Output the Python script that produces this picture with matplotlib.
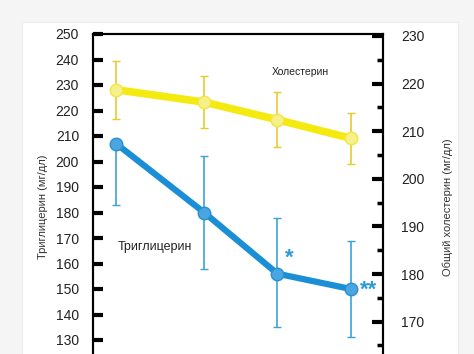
import matplotlib.pyplot as plt
from matplotlib.patches import Rectangle
from matplotlib.ticker import MultipleLocator

plt.rcParams['font.family'] = ['Liberation Sans', 'DejaVu Sans']

# weeks (spacing read from the point positions)
x = [0, 6, 11, 16]

trig = [207, 180, 156, 150]
trig_lo = [24, 22, 21, 19]
trig_hi = [0, 22, 22, 19]

chol = [218.7, 216.1, 212.4, 208.5]
chol_err = [6.1, 5.5, 5.8, 5.4]

W, H = 474, 354
fig = plt.figure(figsize=(W / 100, H / 100), dpi=100)
fig.patch.set_facecolor('#f5f5f5')
fig.patches.append(Rectangle((22 / W, -0.1), (458 - 22) / W, 1.1 - 22 / H,
                             transform=fig.transFigure, facecolor='white',
                             edgecolor='#ececec', lw=0.8, zorder=-5))

# axes box: left 93, right 383, top 34, bottom below the picture
ax_left, ax_right, ax_top, ax_bot = 93, 383, 34, 365.5
ax = fig.add_axes([ax_left / W, 1 - ax_bot / H, (ax_right - ax_left) / W,
                   (ax_bot - ax_top) / H])
ax2 = ax.twinx()
ax.set_zorder(2)
ax2.set_zorder(1)
ax.set_facecolor('none')
ax2.set_facecolor('none')

ax.set_xlim(-1.58, 18.2)
ax.set_ylim(120, 250)
ax2.set_ylim(160.8, 230.4)

# cholesterol (right axis)
ax2.errorbar(x, chol, yerr=chol_err, color='#f5ea10', lw=5.5, ecolor='#e8c930',
             elinewidth=1.2, capsize=3, capthick=1.2, marker='o', ms=9,
             mfc='#f7f08a', mec='#f2e640', mew=1, zorder=3)

# triglycerides (left axis)
ax.errorbar(x, trig, yerr=[trig_lo, trig_hi], color='#1a8fd6', lw=4.5,
            ecolor='#3aa3dc', elinewidth=1.2, capsize=3, capthick=1.2,
            marker='o', ms=9, mfc='#4aa6e0', mec='#2a90d0', mew=1, zorder=3)

ax.text(x[2] + 0.5, trig[2] + 2, '*', color='#2a9ad8', fontsize=16,
        fontweight='bold', ha='left', va='bottom')
ax.text(x[3] + 0.6, trig[3] - 4.5, '**', color='#2a9ad8', fontsize=16,
        fontweight='bold', ha='left', va='bottom')

ax2.text(10.6, 222.4, 'Холестерин', fontsize=7.5, color='#222222',
         ha='left', va='center')
ax.text(0.1, 166.5, 'Триглицерин', fontsize=9, color='#222222',
        ha='left', va='center')

ax.set_yticks(range(130, 251, 10))
ax.set_xticks([])
ax.tick_params(axis='y', direction='in', length=7, width=3, pad=10,
               labelsize=10, colors='black', labelcolor='#222222')
ax2.set_yticks(range(170, 231, 10))
ax2.yaxis.set_minor_locator(MultipleLocator(5))
ax2.tick_params(axis='y', which='major', direction='in', length=8, width=3,
                pad=13, labelsize=10, labelcolor='#222222')
ax2.tick_params(axis='y', which='minor', direction='in', length=4, width=2.5)

for a in (ax, ax2):
    for s in a.spines.values():
        s.set_linewidth(1.5)
        s.set_color('black')

fig.text(43 / W, 1 - 207 / H, 'Триглицерин (мг/дл)', rotation=90,
         fontsize=8, color='#333333', ha='center', va='center')
fig.text(448 / W, 1 - 207 / H, 'Общий холестерин (мг/дл)', rotation=90,
         fontsize=8, color='#333333', ha='center', va='center')

fig.savefig('out.png', dpi=100, facecolor=fig.get_facecolor())
